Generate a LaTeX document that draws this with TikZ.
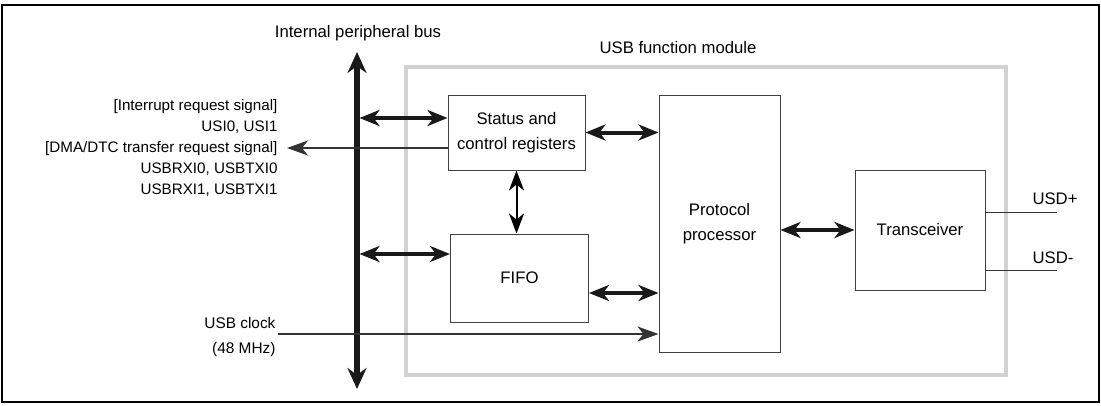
\documentclass[tikz,border=0pt]{standalone}
\usepackage{fontspec}
\setmainfont{Liberation Sans}
\usetikzlibrary{arrows.meta,positioning,calc}

\begin{document}
\begin{tikzpicture}[x=1pt, y=-1pt, every node/.style={font=\fontsize{16.7}{25}\selectfont},
    blk/.style={draw=black!75, line width=1pt, align=center},
    dbl/.style={{Stealth[length=20pt,width=16pt,inset=6pt]}-{Stealth[length=20pt,width=16pt,inset=6pt]}, line width=4pt, black!90},
    sgl/.style={-{Stealth[length=21pt,width=15pt,inset=6pt]}, line width=1.2pt, black!80},
    busline/.style={{Stealth[length=21pt,width=19pt,inset=7pt]}-{Stealth[length=21pt,width=19pt,inset=7pt]}, line width=5.5pt, black!90}]
    \useasboundingbox (0,0) rectangle (1101,405);
    \draw[line width=2pt] (2,5) rectangle (1099,402);

    % module outline
    \node (module) [draw=black!18, line width=4.5pt, minimum width=600pt, minimum height=308pt] at (706,221) {};
    \node (modlbl) at (678,48) {USB function module};

    \node (stat) [blk, minimum width=137pt, minimum height=75pt] at (516.5,132.5) {Status and\\control registers};
    \node (fifo) [blk, minimum width=138pt, minimum height=88pt] at (519.5,278) {FIFO};
    \node (proto) [blk, minimum width=121pt, minimum height=257pt] at (719.5,223.5) {Protocol\\processor};
    \node (trx) [blk, minimum width=130pt, minimum height=120pt] at (920,230) {Transceiver};

    % bus
    \coordinate (bustop) at (357,52);
    \coordinate (busbot) at (357,389);
    \draw[busline] (busbot) -- (bustop);
    \node (buslbl) at (358,33) {Internal peripheral bus};

    \coordinate (s1) at ([yshift=14.5pt]stat.west);
    \coordinate (s2) at ([yshift=-15.5pt]stat.west);
    \coordinate (f1) at ([yshift=24pt]fifo.west);
    \coordinate (f2) at ([yshift=-15pt]fifo.east);
    \draw[dbl, shorten <=2.5pt] (bustop |- s1) -- (s1);
    \draw[dbl, shorten <=2.5pt] (bustop |- f1) -- (f1);
    \draw[dbl] (stat.east) -- (stat.east -| proto.west);
    \draw[dbl] (f2) -- (f2 -| proto.west);
    \draw[dbl] (trx.west -| proto.east) -- (trx.west);
    \draw[{Stealth[length=20pt,width=15pt,inset=6pt]}-{Stealth[length=20pt,width=15pt,inset=6pt]}, line width=2pt] (stat.south) -- (stat.south |- fifo.north);

    % interrupt / DMA requests
    \coordinate (irq) at (287,148);
    \draw[sgl] (s2) -- (irq);
    \node (irqlbl) [anchor=east, align=right, font=\fontsize{15.2}{21}\selectfont] at (281,148) {{[Interrupt request signal]}\\USI0, USI1\\{[DMA/DTC transfer request signal]}\\USBRXI0, USBTXI0\\USBRXI1, USBTXI1};

    % clock
    \coordinate (clk) at (278,334);
    \draw[sgl] (clk) -- (clk -| proto.west);
    \node (clklbl) [anchor=east, align=right, font=\fontsize{15.4}{25}\selectfont] at (279,337) {USB clock\\(48 MHz)};

    % USB lines
    \coordinate (usdp) at (1057,212);
    \coordinate (usdm) at (1057,270);
    \draw[line width=1pt, black!80] (usdp -| trx.east) -- (usdp);
    \draw[line width=1pt, black!80] (usdm -| trx.east) -- (usdm);
    \node (usdplbl) at (1055,199) {USD+};
    \node (usdmlbl) at (1053,258) {USD-};
\end{tikzpicture}
\end{document}
